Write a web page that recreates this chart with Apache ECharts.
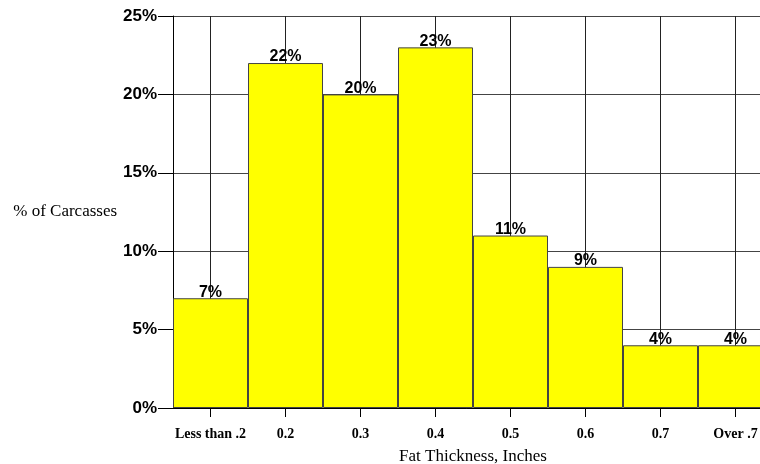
<!DOCTYPE html>
<html>
<head>
<meta charset="utf-8">
<script src="https://cdn.jsdelivr.net/npm/echarts@6/dist/echarts.min.js"></script>
<style>
  html, body { margin: 0; padding: 0; background: #fff; }
  #chart { width: 760px; height: 464px; }
</style>
</head>
<body>
<div id="chart"></div>
<script>
var categories = ['Less than .2', '0.2', '0.3', '0.4', '0.5', '0.6', '0.7', 'Over .7'];
var percents = [7, 22, 20, 23, 11, 9, 4, 4];
var yTicks = [0, 5, 10, 15, 20, 25];

var myChart = echarts.init(document.getElementById('chart'));

var option = {
  animation: false,
  grid: {
    left: 173,
    top: 16,
    height: 392,
    width: 600,
    outerBoundsMode: 'none'
  },
  xAxis: {
    type: 'category',
    data: categories,
    name: 'Fat Thickness, Inches',
    nameLocation: 'middle',
    nameGap: 40,
    nameTextStyle: {
      fontFamily: 'Liberation Serif',
      fontSize: 17,
      color: '#000'
    },
    axisLine: { lineStyle: { color: '#000', width: 1 } },
    axisTick: { show: true, interval: 0, alignWithLabel: true, length: 9, lineStyle: { color: '#000' } },
    axisLabel: {
      interval: 0,
      margin: 19,
      fontFamily: 'Liberation Serif',
      fontWeight: 'bold',
      fontSize: 14,
      color: '#000'
    },
    splitLine: {
      show: true,
      interval: 0,
      alignWithLabel: true,
      lineStyle: { color: '#222', width: 1 }
    }
  },
  yAxis: {
    type: 'value',
    min: yTicks[0],
    max: yTicks[yTicks.length - 1],
    interval: 5,
    name: '% of Carcasses',
    nameLocation: 'middle',
    nameRotate: 0,
    nameGap: 55,
    nameTextStyle: {
      fontFamily: 'Liberation Serif',
      fontSize: 17,
      color: '#000',
      align: 'right',
      padding: [6, 0, 0, 0]
    },
    axisLine: { show: true, lineStyle: { color: '#000', width: 1 } },
    axisTick: { show: true, length: 15, lineStyle: { color: '#000' } },
    axisLabel: {
      margin: 16,
      formatter: '{value}%',
      fontFamily: 'Liberation Sans',
      fontWeight: 'bold',
      fontSize: 17,
      color: '#000'
    },
    splitLine: { show: true, lineStyle: { color: '#444', width: 1 } }
  },
  series: [{
    type: 'bar',
    data: percents,
    barCategoryGap: 0,
    itemStyle: {
      color: '#ffff00',
      borderColor: '#444',
      borderWidth: 1
    },
    label: {
      show: true,
      position: 'top',
      distance: -2,
      formatter: '{c}%',
      fontFamily: 'Liberation Sans',
      fontWeight: 'bold',
      fontSize: 16,
      color: '#000'
    }
  }]
};

myChart.setOption(option);
</script>
</body>
</html>
